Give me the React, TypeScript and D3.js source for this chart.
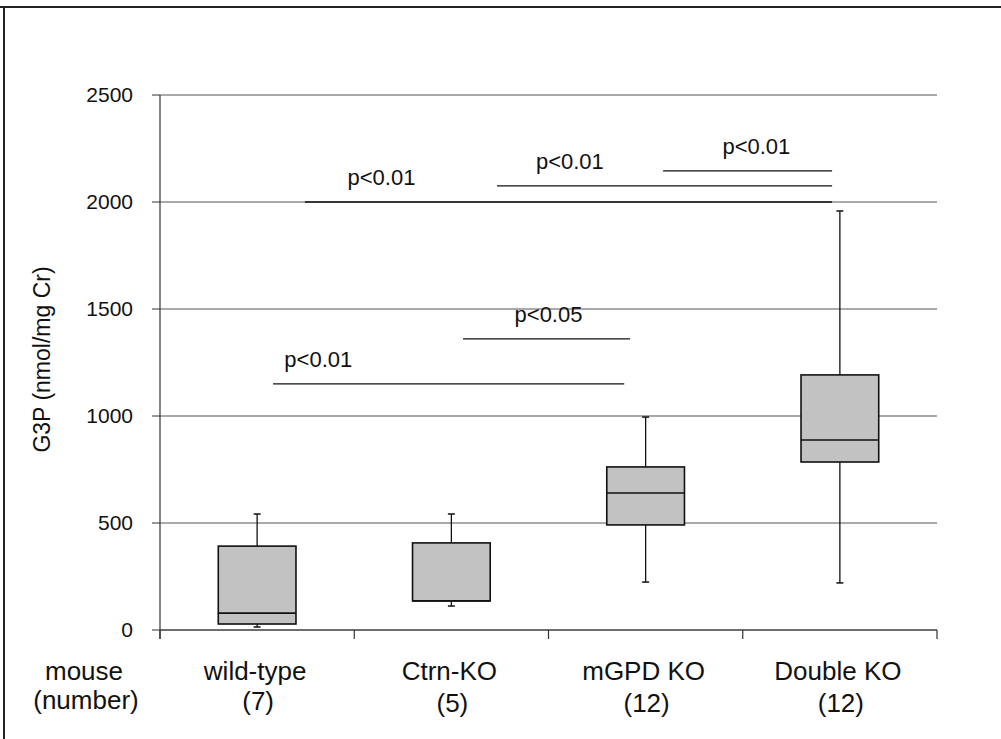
import React from "react";
import * as d3 from "d3";

const categories = ["wild-type", "Ctrn-KO", "mGPD KO", "Double KO"];
const counts = ["(7)", "(5)", "(12)", "(12)"];
const mins = [14, 112, 224, 220];
const q1s = [28, 136, 491, 785];
const medians = [79, 136, 640, 888];
const q3s = [392, 407, 762, 1192];
const maxs = [542, 542, 995, 1958];
const yTicks = [0, 500, 1000, 1500, 2000, 2500];

// significance bars: start/end in category-index units, value, label position
const sigFrom = [2.59, 1.735, 0.746, 1.56, 0.582];
const sigTo = [3.46, 3.46, 3.46, 2.42, 2.39];
const sigValue = [2145, 2075, 2000, 1360, 1150];
const sigLabelX = [3.07, 2.11, 1.14, 2.0, 0.815];
const sigLabel = ["p<0.01", "p<0.01", "p<0.01", "p<0.05", "p<0.01"];

const W = 1001;
const H = 739;
const FONT = "'Liberation Sans', Arial, sans-serif";

export default function App() {
  const left = 160;
  const right = 937;
  const top = 95;
  const bottom = 630;
  const y = d3.scaleLinear().domain([0, 2500]).range([bottom, top]);
  const xi = d3.scaleLinear().domain([0, 4]).range([left, right]);
  const band = (right - left) / 4;
  const boxW = band * 0.4;
  const cx = (i: number) => xi(i + 0.5);

  return (
    <svg
      width={W}
      height={H}
      style={{ position: "absolute", left: 0, top: 0, background: "#fff" }}
      fontFamily={FONT}
    >
      {/* frame */}
      <line x1={0} x2={W} y1={7} y2={7} stroke="#222" strokeWidth={2} />
      <line x1={4} x2={4} y1={7} y2={H} stroke="#222" strokeWidth={2} />

      {/* gridlines and y ticks */}
      {yTicks.map((t) => (
        <g key={t}>
          <line x1={left} x2={right} y1={y(t)} y2={y(t)} stroke="#555" strokeWidth={1} />
          <line x1={left - 8} x2={left} y1={y(t)} y2={y(t)} stroke="#333" strokeWidth={1} />
          <text x={left - 27} y={y(t) + 7} textAnchor="end" fontSize={21} fill="#111">
            {t}
          </text>
        </g>
      ))}
      {/* axes */}
      <line x1={left} x2={left} y1={top} y2={bottom + 9} stroke="#333" strokeWidth={1.2} />
      <line x1={left} x2={right} y1={bottom} y2={bottom} stroke="#333" strokeWidth={1.2} />
      {d3.range(5).map((i) => (
        <line key={i} x1={xi(i)} x2={xi(i)} y1={bottom} y2={bottom + 9} stroke="#333" strokeWidth={1.2} />
      ))}

      {/* y label */}
      <text
        transform={`translate(50, ${(top + bottom) / 2 - 3}) rotate(-90)`}
        textAnchor="middle"
        fontSize={23}
        fill="#111"
      >
        G3P (nmol/mg Cr)
      </text>

      {/* significance bars */}
      {sigValue.map((v, k) => (
        <g key={k}>
          <line x1={xi(sigFrom[k])} x2={xi(sigTo[k])} y1={y(v)} y2={y(v)} stroke="#111" strokeWidth={1.3} />
          <text x={xi(sigLabelX[k])} y={y(v) - 17} textAnchor="middle" fontSize={22} fill="#111">
            {sigLabel[k]}
          </text>
        </g>
      ))}

      {/* boxes */}
      {categories.map((c, i) => {
        const x0 = cx(i) - boxW / 2;
        return (
          <g key={c}>
            <line x1={cx(i)} x2={cx(i)} y1={y(maxs[i])} y2={y(q3s[i])} stroke="#111" strokeWidth={1.3} />
            <line x1={cx(i)} x2={cx(i)} y1={y(q1s[i])} y2={y(mins[i])} stroke="#111" strokeWidth={1.3} />
            <line x1={cx(i) - 3.5} x2={cx(i) + 3.5} y1={y(maxs[i])} y2={y(maxs[i])} stroke="#111" strokeWidth={1.5} />
            <line x1={cx(i) - 3.5} x2={cx(i) + 3.5} y1={y(mins[i])} y2={y(mins[i])} stroke="#111" strokeWidth={1.5} />
            <rect
              x={x0}
              y={y(q3s[i])}
              width={boxW}
              height={y(q1s[i]) - y(q3s[i])}
              fill="#c2c2c2"
              stroke="#111"
              strokeWidth={1.6}
            />
            <line x1={x0} x2={x0 + boxW} y1={y(medians[i])} y2={y(medians[i])} stroke="#111" strokeWidth={1.6} />
          </g>
        );
      })}

      {/* category labels */}
      <text x={84} y={680} textAnchor="middle" fontSize={26} fill="#111">mouse</text>
      <text x={86} y={709} textAnchor="middle" fontSize={26} fill="#111">(number)</text>
      {categories.map((c, i) => (
        <g key={c}>
          <text x={cx(i) - 2} y={680} textAnchor="middle" fontSize={26} fill="#111">{c}</text>
          <text x={cx(i) + 1} y={i === 0 ? 710 : 712} textAnchor="middle" fontSize={26} fill="#111">{counts[i]}</text>
        </g>
      ))}
    </svg>
  );
}
